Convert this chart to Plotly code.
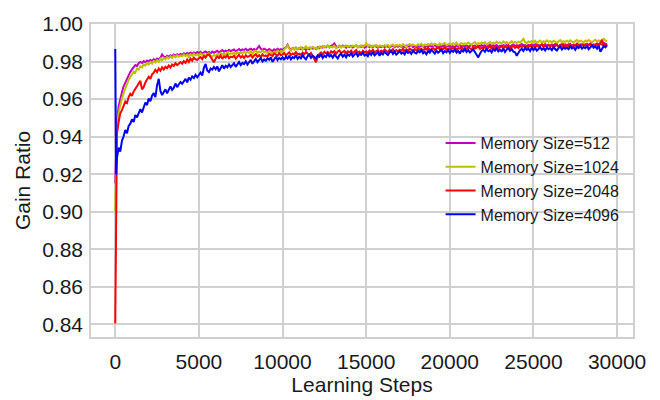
import plotly.graph_objects as go

# Training steps at which the gain ratio was logged
steps = [0, 50] + list(range(100, 29401, 100))

gain_512 = [
    0.9152, 0.9384, 0.9482, 0.9561, 0.9605, 0.9637, 0.9668, 0.9689, 0.9711, 0.9726, 0.9745,
    0.9758, 0.9769, 0.9781, 0.9776, 0.9791, 0.9798, 0.9793, 0.9803, 0.9797, 0.9806,
    0.9801, 0.9809, 0.9804, 0.9812, 0.9807, 0.9816, 0.9811, 0.9821, 0.9838, 0.9826,
    0.9822, 0.9831, 0.9826, 0.9834, 0.9828, 0.9837, 0.9831, 0.9839, 0.9834, 0.9841,
    0.9836, 0.9844, 0.9838, 0.9846, 0.9841, 0.9848, 0.9842, 0.9849, 0.9844, 0.9851,
    0.9845, 0.9852, 0.9843, 0.9849, 0.9854, 0.9846, 0.9851, 0.9844, 0.9853, 0.9847,
    0.9851, 0.9857, 0.9848, 0.9855, 0.9861, 0.9852, 0.9858, 0.9854, 0.9863, 0.9856,
    0.9859, 0.9864, 0.9855, 0.9862, 0.9867, 0.9858, 0.9865, 0.9861, 0.9868, 0.9859,
    0.9863, 0.9869, 0.9861, 0.9867, 0.9859, 0.9871, 0.9883, 0.9868, 0.9862, 0.9869,
    0.9864, 0.9858, 0.9867, 0.9861, 0.9856, 0.9865, 0.9859, 0.9868, 0.9862, 0.9866,
    0.9861, 0.9869, 0.9876, 0.9889, 0.9871, 0.9864, 0.9872, 0.9867, 0.9874, 0.9866,
    0.9871, 0.9865, 0.9873, 0.9868, 0.9862, 0.9871, 0.9866, 0.9874, 0.9869, 0.9872,
    0.9868, 0.9876, 0.9871, 0.9879, 0.9874, 0.9881, 0.9876, 0.9884, 0.9878, 0.9883,
    0.9891, 0.9896, 0.9881, 0.9876, 0.9883, 0.9878, 0.9885, 0.9879, 0.9874, 0.9882,
    0.9877, 0.9883, 0.9875, 0.9881, 0.9886, 0.9876, 0.9882, 0.9878, 0.9884, 0.9874,
    0.9879, 0.9885, 0.9876, 0.9882, 0.9877, 0.9884, 0.9879, 0.9873, 0.9881, 0.9877,
    0.9882, 0.9876, 0.9884, 0.9879, 0.9874, 0.9881, 0.9886, 0.9877, 0.9883, 0.9878,
    0.9884, 0.9878, 0.9882, 0.9876, 0.9885, 0.9879, 0.9883, 0.9887, 0.9876, 0.9882,
    0.9877, 0.9884, 0.9879, 0.9886, 0.9881, 0.9875, 0.9883, 0.9878, 0.9885, 0.9879,
    0.9883, 0.9888, 0.9879, 0.9884, 0.9877, 0.9885, 0.9881, 0.9887, 0.9879, 0.9884,
    0.9879, 0.9886, 0.9881, 0.9877, 0.9885, 0.9882, 0.9888, 0.9879, 0.9884, 0.9881,
    0.9886, 0.9879, 0.9884, 0.9889, 0.9881, 0.9886, 0.9878, 0.9885, 0.9882, 0.9887,
    0.9882, 0.9887, 0.9879, 0.9885, 0.9889, 0.9881, 0.9886, 0.9883, 0.9888, 0.9879,
    0.9885, 0.9881, 0.9887, 0.9883, 0.9889, 0.9884, 0.9879, 0.9886, 0.9891, 0.9882,
    0.9887, 0.9883, 0.9889, 0.9893, 0.9884, 0.9888, 0.9882, 0.9889, 0.9885, 0.9891,
    0.9886, 0.9892, 0.9884, 0.9889, 0.9883, 0.9891, 0.9887, 0.9893, 0.9885, 0.9889,
    0.9884, 0.9891, 0.9887, 0.9893, 0.9886, 0.9882, 0.9889, 0.9894, 0.9885, 0.9891,
    0.9887, 0.9893, 0.9888, 0.9884, 0.9891, 0.9886, 0.9895, 0.9889, 0.9892, 0.9886,
    0.9891, 0.9887, 0.9894, 0.9889, 0.9896, 0.9886, 0.9892, 0.9888, 0.9897, 0.9891,
    0.9894, 0.9889, 0.9899, 0.9893, 0.9891,
]

gain_1024 = [
    0.9003, 0.9352, 0.9448, 0.9527, 0.9569, 0.9604, 0.9632, 0.9661, 0.9679, 0.9702, 0.9718,
    0.9733, 0.9746, 0.9741, 0.9762, 0.9757, 0.9775, 0.9768, 0.9786, 0.9779, 0.9791,
    0.9784, 0.9797, 0.9789, 0.9803, 0.9795, 0.9808, 0.9799, 0.9815, 0.9806, 0.9819,
    0.9812, 0.9824, 0.9816, 0.9828, 0.9819, 0.9831, 0.9823, 0.9834, 0.9826, 0.9832,
    0.9827, 0.9838, 0.9829, 0.9836, 0.9824, 0.9839, 0.9831, 0.9842, 0.9833, 0.9838,
    0.9831, 0.9843, 0.9835, 0.9841, 0.9829, 0.9838, 0.9844, 0.9832, 0.9826, 0.9835,
    0.9829, 0.9841, 0.9834, 0.9846, 0.9838, 0.9843, 0.9836, 0.9849, 0.9839, 0.9845,
    0.9841, 0.9848, 0.9837, 0.9851, 0.9843, 0.9849, 0.9841, 0.9853, 0.9845, 0.9851,
    0.9846, 0.9855, 0.9842, 0.9852, 0.9858, 0.9847, 0.9854, 0.9849, 0.9859, 0.9848,
    0.9853, 0.9845, 0.9856, 0.9849, 0.9841, 0.9852, 0.9846, 0.9857, 0.9848, 0.9855,
    0.9851, 0.9863, 0.9872, 0.9886, 0.9868, 0.9859, 0.9871, 0.9864, 0.9875, 0.9866,
    0.9869, 0.9877, 0.9864, 0.9873, 0.9881, 0.9868, 0.9876, 0.9871, 0.9879, 0.9872,
    0.9874, 0.9868, 0.9879, 0.9872, 0.9883, 0.9875, 0.9881, 0.9886, 0.9873, 0.9879,
    0.9876, 0.9884, 0.9871, 0.9881, 0.9887, 0.9875, 0.9882, 0.9877, 0.9886, 0.9879,
    0.9883, 0.9876, 0.9885, 0.9879, 0.9888, 0.9874, 0.9882, 0.9887, 0.9878, 0.9884,
    0.9897, 0.9881, 0.9888, 0.9876, 0.9885, 0.9881, 0.9889, 0.9878, 0.9886, 0.9882,
    0.9879, 0.9887, 0.9882, 0.9889, 0.9877, 0.9886, 0.9891, 0.9881, 0.9888, 0.9884,
    0.9889, 0.9881, 0.9892, 0.9885, 0.9879, 0.9888, 0.9893, 0.9884, 0.9891, 0.9886,
    0.9884, 0.9892, 0.9887, 0.9895, 0.9883, 0.9891, 0.9886, 0.9894, 0.9889, 0.9897,
    0.9888, 0.9895, 0.9891, 0.9886, 0.9897, 0.9889, 0.9894, 0.9899, 0.9887, 0.9893,
    0.9896, 0.9889, 0.9898, 0.9892, 0.9901, 0.9888, 0.9895, 0.9899, 0.9891, 0.9897,
    0.9893, 0.9901, 0.9895, 0.9889, 0.9899, 0.9904, 0.9892, 0.9898, 0.9894, 0.9902,
    0.9896, 0.9903, 0.9891, 0.9899, 0.9905, 0.9894, 0.9901, 0.9897, 0.9906, 0.9898,
    0.9902, 0.9896, 0.9907, 0.9899, 0.9904, 0.9893, 0.9901, 0.9908, 0.9897, 0.9905,
    0.9899, 0.9906, 0.9901, 0.9909, 0.9921, 0.9903, 0.9898, 0.9907, 0.9902, 0.9909,
    0.9903, 0.9911, 0.9898, 0.9906, 0.9912, 0.9901, 0.9908, 0.9903, 0.9913, 0.9905,
    0.9909, 0.9902, 0.9911, 0.9906, 0.9899, 0.9908, 0.9914, 0.9903, 0.9909, 0.9905,
    0.9911, 0.9904, 0.9913, 0.9907, 0.9901, 0.9909, 0.9915, 0.9905, 0.9911, 0.9907,
    0.9903, 0.9912, 0.9906, 0.9915, 0.9908, 0.9902, 0.9911, 0.9916, 0.9907, 0.9913,
    0.9909, 0.9916, 0.9921, 0.9912, 0.9908,
]

gain_2048 = [
    0.8405, 0.9301, 0.9416, 0.9478, 0.9524, 0.9541, 0.9569, 0.9587, 0.9579, 0.9611, 0.9628,
    0.9617, 0.9641, 0.9659, 0.9668, 0.9683, 0.9697, 0.9652, 0.9664, 0.9689, 0.9706,
    0.9719, 0.9708, 0.9732, 0.9741, 0.9756, 0.9744, 0.9763, 0.9751, 0.9769, 0.9758,
    0.9772, 0.9764, 0.9779, 0.9768, 0.9784, 0.9776, 0.9791, 0.9781, 0.9788, 0.9797,
    0.9789, 0.9802, 0.9793, 0.9811, 0.9798, 0.9816, 0.9805, 0.9821, 0.9812, 0.9809,
    0.9818, 0.9824, 0.9813, 0.9829, 0.9821, 0.9835, 0.9838, 0.9826, 0.9811, 0.9796,
    0.9815, 0.9827, 0.9819, 0.9832, 0.9814, 0.9828, 0.9821, 0.9834, 0.9818, 0.9826,
    0.9823, 0.9831, 0.9816, 0.9829, 0.9836, 0.9822, 0.9830, 0.9819, 0.9833, 0.9825,
    0.9828, 0.9836, 0.9821, 0.9832, 0.9839, 0.9826, 0.9834, 0.9823, 0.9838, 0.9829,
    0.9833, 0.9827, 0.9841, 0.9835, 0.9829, 0.9843, 0.9836, 0.9831, 0.9845, 0.9834,
    0.9838, 0.9846, 0.9832, 0.9841, 0.9849, 0.9835, 0.9843, 0.9838, 0.9851, 0.9837,
    0.9842, 0.9836, 0.9848, 0.9839, 0.9851, 0.9842, 0.9837, 0.9846, 0.9828, 0.9812,
    0.9796, 0.9823, 0.9841, 0.9849, 0.9838, 0.9852, 0.9844, 0.9851, 0.9839, 0.9855,
    0.9847, 0.9856, 0.9842, 0.9853, 0.9859, 0.9845, 0.9851, 0.9857, 0.9843, 0.9854,
    0.9849, 0.9858, 0.9844, 0.9855, 0.9861, 0.9847, 0.9853, 0.9842, 0.9857, 0.9849,
    0.9854, 0.9846, 0.9859, 0.9851, 0.9863, 0.9849, 0.9856, 0.9861, 0.9847, 0.9858,
    0.9852, 0.9864, 0.9856, 0.9849, 0.9862, 0.9857, 0.9866, 0.9851, 0.9861, 0.9855,
    0.9863, 0.9857, 0.9868, 0.9854, 0.9865, 0.9859, 0.9869, 0.9861, 0.9856, 0.9867,
    0.9859, 0.9871, 0.9863, 0.9868, 0.9857, 0.9869, 0.9864, 0.9873, 0.9861, 0.9866,
    0.9872, 0.9862, 0.9869, 0.9875, 0.9864, 0.9871, 0.9866, 0.9876, 0.9863, 0.9869,
    0.9865, 0.9874, 0.9868, 0.9877, 0.9863, 0.9872, 0.9869, 0.9878, 0.9866, 0.9873,
    0.9868, 0.9876, 0.9871, 0.9864, 0.9879, 0.9869, 0.9874, 0.9881, 0.9867, 0.9875,
    0.9871, 0.9879, 0.9866, 0.9876, 0.9882, 0.9869, 0.9877, 0.9872, 0.9881, 0.9868,
    0.9876, 0.9883, 0.9871, 0.9879, 0.9874, 0.9885, 0.9869, 0.9878, 0.9884, 0.9873,
    0.9879, 0.9872, 0.9884, 0.9877, 0.9886, 0.9874, 0.9881, 0.9876, 0.9887, 0.9878,
    0.9883, 0.9875, 0.9888, 0.9879, 0.9884, 0.9891, 0.9877, 0.9885, 0.9879, 0.9889,
    0.9881, 0.9887, 0.9876, 0.9884, 0.9891, 0.9879, 0.9886, 0.9882, 0.9892, 0.9878,
    0.9886, 0.9881, 0.9893, 0.9879, 0.9888, 0.9883, 0.9894, 0.9881, 0.9887, 0.9892,
    0.9884, 0.9891, 0.9879, 0.9888, 0.9895, 0.9882, 0.9889, 0.9885, 0.9893, 0.9886,
    0.9897, 0.9914, 0.9884, 0.9891, 0.9887,
]

gain_4096 = [
    0.9867, 0.9198, 0.9285, 0.9342, 0.9321, 0.9378, 0.9402, 0.9436, 0.9418, 0.9457, 0.9469,
    0.9492, 0.9478, 0.9515, 0.9503, 0.9531, 0.9546, 0.9529, 0.9561, 0.9582, 0.9568,
    0.9603, 0.9589, 0.9618, 0.9632, 0.9611, 0.9674, 0.9708, 0.9643, 0.9621, 0.9638,
    0.9652, 0.9631, 0.9647, 0.9668, 0.9649, 0.9661, 0.9683, 0.9664, 0.9678, 0.9691,
    0.9682, 0.9699, 0.9708, 0.9689, 0.9714, 0.9703, 0.9721, 0.9712, 0.9729, 0.9716,
    0.9732, 0.9741, 0.9726, 0.9768, 0.9787, 0.9752, 0.9744, 0.9763, 0.9757, 0.9771,
    0.9759, 0.9774, 0.9748, 0.9766, 0.9781, 0.9762, 0.9777, 0.9769, 0.9785, 0.9771,
    0.9779, 0.9791, 0.9772, 0.9786, 0.9798, 0.9781, 0.9793, 0.9787, 0.9801, 0.9784,
    0.9796, 0.9809, 0.9788, 0.9802, 0.9814, 0.9797, 0.9806, 0.9819, 0.9801, 0.9811,
    0.9804, 0.9817, 0.9809, 0.9822, 0.9798, 0.9814, 0.9826, 0.9808, 0.9819, 0.9812,
    0.9823, 0.9809, 0.9827, 0.9816, 0.9831, 0.9812, 0.9824, 0.9818, 0.9833, 0.9814,
    0.9826, 0.9817, 0.9834, 0.9821, 0.9812, 0.9829, 0.9836, 0.9819, 0.9831, 0.9824,
    0.9816, 0.9833, 0.9825, 0.9838, 0.9819, 0.9831, 0.9824, 0.9841, 0.9827, 0.9835,
    0.9821, 0.9838, 0.9829, 0.9817, 0.9834, 0.9842, 0.9826, 0.9837, 0.9823, 0.9839,
    0.9831, 0.9844, 0.9827, 0.9838, 0.9846, 0.9829, 0.9841, 0.9835, 0.9848, 0.9832,
    0.9839, 0.9828, 0.9845, 0.9836, 0.9851, 0.9833, 0.9842, 0.9849, 0.9831, 0.9846,
    0.9838, 0.9852, 0.9843, 0.9835, 0.9849, 0.9856, 0.9841, 0.9853, 0.9837, 0.9848,
    0.9855, 0.9842, 0.9849, 0.9838, 0.9857, 0.9846, 0.9853, 0.9841, 0.9858, 0.9847,
    0.9843, 0.9856, 0.9849, 0.9861, 0.9844, 0.9852, 0.9839, 0.9857, 0.9848, 0.9862,
    0.9851, 0.9843, 0.9858, 0.9847, 0.9855, 0.9863, 0.9845, 0.9856, 0.9849, 0.9861,
    0.9846, 0.9859, 0.9852, 0.9864, 0.9848, 0.9857, 0.9843, 0.9861, 0.9853, 0.9866,
    0.9851, 0.9862, 0.9848, 0.9858, 0.9865, 0.9851, 0.9838, 0.9822, 0.9841, 0.9857,
    0.9863, 0.9852, 0.9867, 0.9855, 0.9861, 0.9849, 0.9866, 0.9858, 0.9871, 0.9854,
    0.9862, 0.9855, 0.9869, 0.9851, 0.9864, 0.9872, 0.9857, 0.9866, 0.9853, 0.9849,
    0.9831, 0.9846, 0.9861, 0.9868, 0.9857, 0.9873, 0.9862, 0.9869, 0.9856, 0.9874,
    0.9861, 0.9872, 0.9858, 0.9867, 0.9876, 0.9863, 0.9871, 0.9859, 0.9875, 0.9866,
    0.9872, 0.9861, 0.9877, 0.9866, 0.9859, 0.9873, 0.9879, 0.9864, 0.9876, 0.9868,
    0.9874, 0.9866, 0.9881, 0.9869, 0.9877, 0.9863, 0.9879, 0.9872, 0.9884, 0.9869,
    0.9877, 0.9871, 0.9883, 0.9866, 0.9879, 0.9886, 0.9873, 0.9881, 0.9869, 0.9884,
    0.9852, 0.9871, 0.9883, 0.9876, 0.9888,
]

for vals in (gain_512, gain_1024, gain_2048, gain_4096):
    assert len(vals) == len(steps), (len(vals), len(steps))

series = [
    ("Memory Size=512", gain_512, "#bf00bf"),
    ("Memory Size=1024", gain_1024, "#bfbf00"),
    ("Memory Size=2048", gain_2048, "#ff0000"),
    ("Memory Size=4096", gain_4096, "#0000ff"),
]

y_ticks = [0.84, 0.86, 0.88, 0.90, 0.92, 0.94, 0.96, 0.98, 1.00]
x_ticks = [0, 5000, 10000, 15000, 20000, 25000, 30000]

FONT = "Liberation Sans, Arial, sans-serif"
GRID = "#d0d0d0"
INK = "#1a1a1a"

fig = go.Figure()
for name, values, color in series:
    fig.add_trace(go.Scatter(
        x=steps, y=values, mode="lines", name=name,
        line=dict(color=color, width=2),
    ))

fig.update_layout(
    width=660, height=400,
    margin=dict(l=91, r=27, t=15, b=56),
    paper_bgcolor="white", plot_bgcolor="white",
    font=dict(family=FONT, color=INK),
    showlegend=True,
    legend=dict(
        x=0.645, y=0.674, xanchor="left", yanchor="top",
        bgcolor="rgba(0,0,0,0)", borderwidth=0,
        font=dict(family=FONT, size=16, color=INK),
    ),
)

fig.update_xaxes(
    range=[-1450, 30950], tickvals=x_ticks, ticktext=[str(v) for v in x_ticks],
    showgrid=True, gridcolor=GRID, gridwidth=1.5, zeroline=False,
    showline=True, linecolor=GRID, linewidth=1.5, mirror=True,
    ticks="", ticklabelstandoff=5,
    tickfont=dict(family=FONT, size=21, color=INK),
    title=dict(text="Learning Steps", font=dict(family=FONT, size=21, color=INK), standoff=0),
)
fig.update_yaxes(
    range=[0.8333, 1.0], tickvals=y_ticks, ticktext=[f"{v:.2f}" for v in y_ticks],
    showgrid=True, gridcolor=GRID, gridwidth=1.5, zeroline=False,
    showline=True, linecolor=GRID, linewidth=1.5, mirror=True,
    ticks="", ticklabelstandoff=2,
    tickfont=dict(family=FONT, size=21, color=INK),
    title=dict(text="Gain Ratio", font=dict(family=FONT, size=21, color=INK), standoff=6),
)

fig.write_html("out.html")
